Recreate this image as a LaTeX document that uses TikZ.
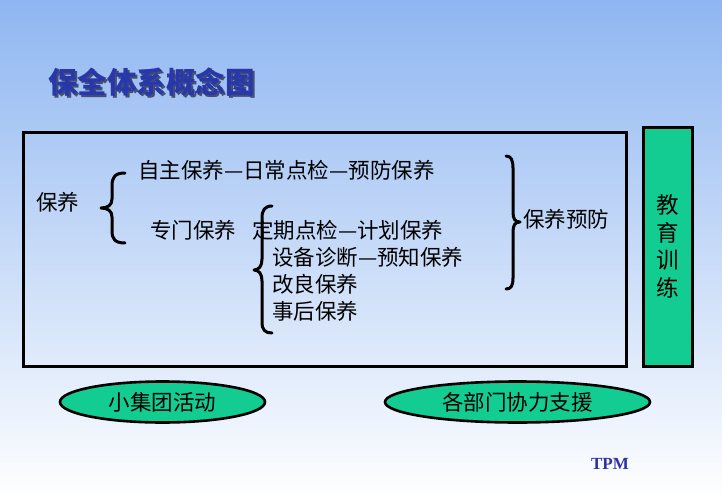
\documentclass[tikz,border=0pt]{standalone}
\usepackage{fontspec}
\setmainfont{Noto Sans CJK SC}
\newfontfamily\tpmfont{Liberation Serif}
\usetikzlibrary{shapes.geometric}
\definecolor{bgtop}{RGB}{143,182,241}
\definecolor{titleblue}{RGB}{40,56,170}
\definecolor{shadowgray}{RGB}{70,80,110}
\definecolor{greenfill}{RGB}{18,204,145}
\definecolor{tpmblue}{RGB}{50,50,160}
\tikzset{
  txt/.style={anchor=west,inner sep=0pt,font=\fontsize{21.5}{24}\selectfont},
  bracepath/.style={line width=3pt,line cap=round,line join=round},
  frame/.style={draw=black,line width=3pt},
  oval/.style={ellipse,draw=black,line width=2.6pt,fill=greenfill,inner sep=0pt,font=\fontsize{21.5}{24}\selectfont},
}
\begin{document}
\begin{tikzpicture}[x=1pt,y=-1pt]
\useasboundingbox (0,0) rectangle (722,500);
\shade[top color=bgtop,bottom color=white] (0,0) rectangle (722,500);
% title
\node[anchor=west,inner sep=0pt,text=shadowgray,font=\fontsize{29.5}{32}\selectfont\bfseries] (titleshadow) at (50,84) {保全体系概念图};
\node[anchor=west,inner sep=0pt,text=titleblue,font=\fontsize{29.5}{32}\selectfont\bfseries] (title) at (48,82) {保全体系概念图};
% frames
\node[frame,minimum width=603pt,minimum height=234pt,inner sep=0pt] (mainbox) at (324.5,249) {};
\node[frame,fill=greenfill,minimum width=49pt,minimum height=239pt,inner sep=0pt,align=center,font=\fontsize{22.5}{27.5}\selectfont] (edu) at (667.5,246.5) {教\\育\\训\\练};
% texts
\node[txt] (baoyang) at (36,202) {保养};
\node[txt] (zizhu) at (138,170) {自主保养—日常点检—预防保养};
\node[txt] (zhuanmen) at (150,230) {专门保养};
\node[txt] (dingqi) at (252,230) {定期点检—计划保养};
\node[txt] (shebei) at (272,257) {设备诊断—预知保养};
\node[txt] (gailiang) at (272,284) {改良保养};
\node[txt] (shihou) at (272,311) {事后保养};
\node[txt] (yufang) at (523,219) {保养预防};
% braces
\draw[bracepath] (125,173) .. controls (115,173) and (112,177) .. (112,186) -- (112,199) .. controls (112,205) and (108,208) .. (101,208) .. controls (108,208) and (112,211) .. (112,217) -- (112,231) .. controls (112,239) and (115,243) .. (125,243);
\draw[bracepath] (272,206) .. controls (265,206) and (262,210) .. (262,218) -- (262,259) .. controls (262,266) and (259,270) .. (254,270) .. controls (259,270) and (262,274) .. (262,281) -- (262,322) .. controls (262,330) and (265,333) .. (272,333);
\draw[bracepath] (506,156) .. controls (511,156) and (513,160) .. (513,168) -- (513,212) .. controls (513,219) and (515,222) .. (520,222) .. controls (515,222) and (513,225) .. (513,232) -- (513,278) .. controls (513,286) and (511,289) .. (506,289);
% ovals
\node[oval,minimum width=205pt,minimum height=41pt] (xiaojituan) at (162.5,402) {小集团活动};
\node[oval,minimum width=265pt,minimum height=41pt] (gebumen) at (517.5,402) {各部门协力支援};
% TPM
\node[anchor=center,inner sep=0pt,text=tpmblue,font=\tpmfont\bfseries\fontsize{17}{19}\selectfont] (tpm) at (610,464) {TPM};
\end{tikzpicture}
\end{document}
